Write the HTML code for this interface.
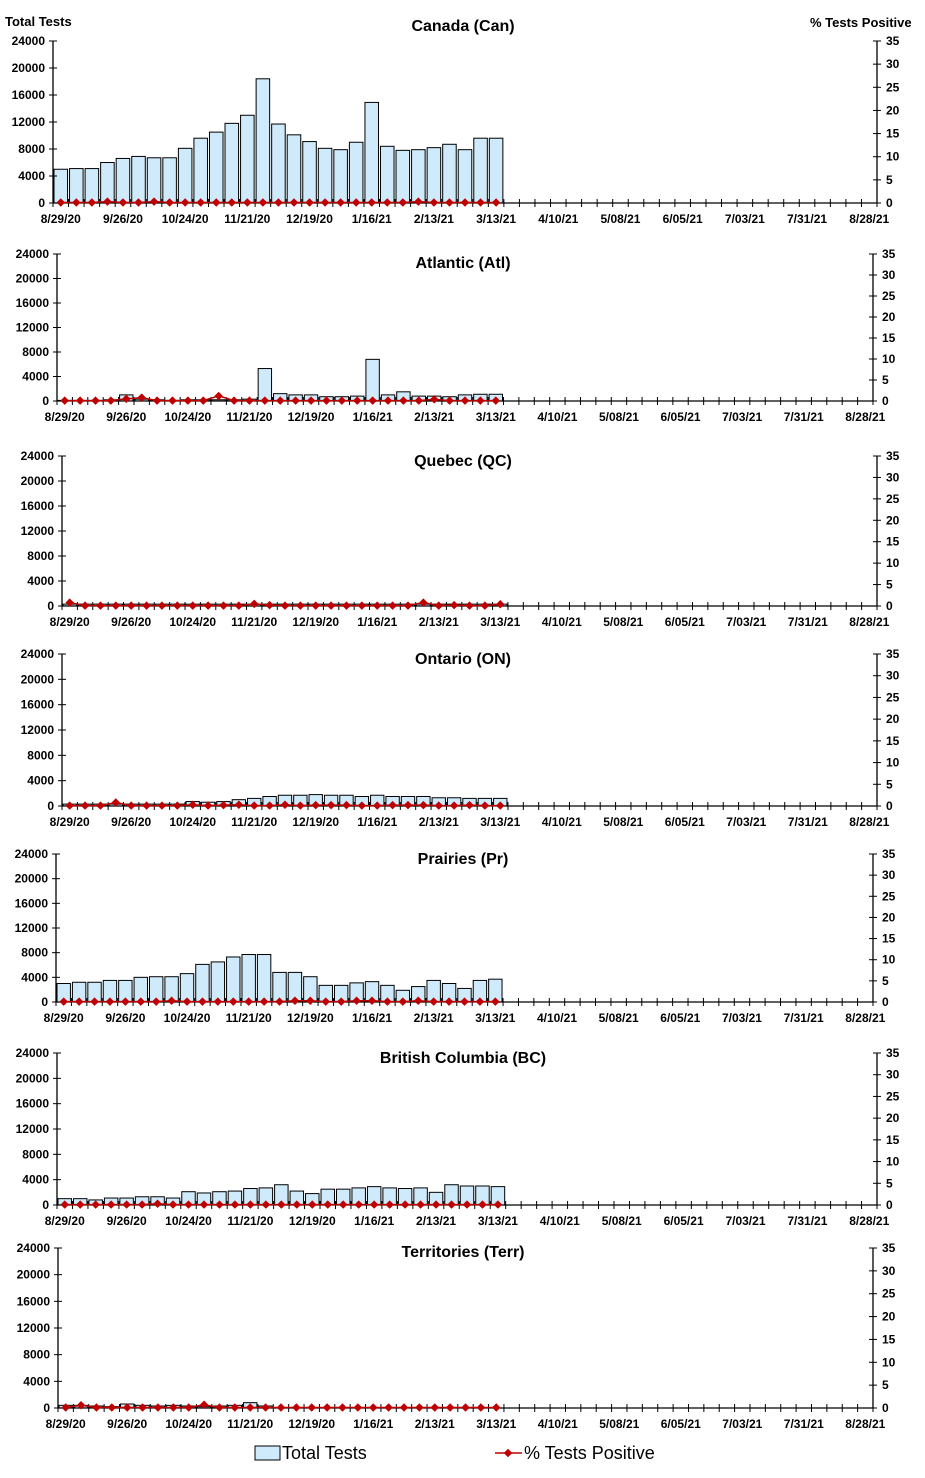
<!DOCTYPE html>
<html><head><meta charset="utf-8"><style>
body{margin:0;background:#fff;}
svg text{font-family:"Liberation Sans",Arial,sans-serif;font-weight:bold;fill:#000;}
</style></head><body>
<svg id="c" width="925" height="1473" viewBox="0 0 925 1473">
<text x="5" y="26" font-size="13">Total Tests</text>
<text x="810" y="27" font-size="13">% Tests Positive</text>
<g>
<rect x="255" y="1446" width="25" height="14" fill="#cfeafb" stroke="#000"/>
<text x="282" y="1459" font-size="18" style="font-weight:normal">Total Tests</text>
<line x1="495" y1="1453" x2="522" y2="1453" stroke="#c00000" stroke-width="1.5"/>
<rect x="505" y="1450" width="6" height="6" fill="#c00000" transform="rotate(45 508 1453)"/>
<text x="524" y="1459" font-size="18" style="font-weight:normal">% Tests Positive</text>
</g>
</svg>
<script>
const xLabels=["8/29/20","9/26/20","10/24/20","11/21/20","12/19/20","1/16/21","2/13/21","3/13/21","4/10/21","5/08/21","6/05/21","7/03/21","7/31/21","8/28/21"];
const leftTicks=[0,4000,8000,12000,16000,20000,24000];
const rightTicks=[0,5,10,15,20,25,30,35];
const regions=["Canada (Can)","Atlantic (Atl)","Quebec (QC)","Ontario (ON)","Prairies (Pr)","British Columbia (BC)","Territories (Terr)"];
const canTests=[5000,5100,5100,6000,6600,6900,6700,6700,8100,9600,10500,11800,13000,18400,11700,10100,9100,8100,7900,9000,14900,8400,7800,7900,8200,8700,7900,9600,9600];
const canPos=[0.1,0.1,0.1,0.3,0.1,0.1,0.3,0.1,0.1,0.1,0.1,0.1,0.1,0.1,0.1,0.1,0.1,0.1,0.1,0.1,0.1,0.1,0.1,0.3,0.1,0.1,0.1,0.1,0.1];
const atlTests=[100,100,100,200,1000,300,200,100,200,200,200,200,300,5300,1200,1000,1000,700,700,800,6800,1000,1500,800,800,700,1000,1100,1100];
const atlPos=[0.1,0.1,0.1,0.1,0.5,0.8,0.1,0.1,0.1,0.1,1.2,0.1,0.1,0.1,0.1,0.1,0.1,0.1,0.1,0.1,0.1,0.1,0.1,0.1,0.4,0.1,0.1,0.1,0.1];
const qcTests=[300,300,300,300,300,300,300,300,300,300,300,300,300,300,300,300,300,300,300,300,300,300,300,300,300,300,300,300,300];
const qcPos=[0.8,0.1,0.1,0.1,0.1,0.1,0.1,0.1,0.1,0.1,0.1,0.1,0.5,0.2,0.1,0.1,0.1,0.1,0.1,0.1,0.1,0.1,0.1,0.8,0.1,0.2,0.1,0.1,0.4];
const onTests=[300,300,300,300,300,300,300,300,700,600,700,1000,1200,1500,1700,1700,1800,1700,1700,1500,1700,1500,1500,1500,1300,1300,1200,1200,1200];
const onPos=[0.1,0.1,0.1,0.8,0.1,0.1,0.1,0.1,0.3,0.1,0.2,0.3,0.1,0.1,0.3,0.1,0.2,0.2,0.2,0.1,0.1,0.2,0.2,0.2,0.1,0.1,0.2,0.1,0.1];
const prTests=[3000,3200,3200,3500,3500,4000,4100,4100,4600,6100,6500,7300,7700,7700,4800,4800,4100,2700,2700,3100,3300,2700,1900,2500,3500,3000,2200,3500,3700];
const prPos=[0.1,0.1,0.1,0.1,0.1,0.1,0.1,0.3,0.1,0.1,0.1,0.1,0.1,0.1,0.1,0.3,0.3,0.1,0.1,0.3,0.3,0.1,0.1,0.3,0.1,0.1,0.1,0.1,0.1];
const bcTests=[1000,1000,800,1100,1100,1300,1300,1100,2100,1900,2100,2200,2600,2700,3200,2200,1800,2500,2500,2700,2900,2700,2600,2700,2000,3200,3000,3000,2900];
const bcPos=[0.1,0.1,0.1,0.1,0.1,0.1,0.3,0.1,0.1,0.1,0.1,0.1,0.1,0.1,0.1,0.1,0.1,0.1,0.1,0.1,0.1,0.1,0.1,0.1,0.1,0.1,0.1,0.1,0.1];
const terrTests=[400,400,300,200,600,400,300,400,300,200,300,400,800,300];
const terrPos=[0.1,0.6,0.1,0.1,0.1,0.1,0.1,0.1,0.1,0.7,0.1,0.1,0.1,0.1,0.1,0.1,0.1,0.1,0.1,0.1,0.1,0.1,0.1,0.1,0.1,0.1,0.1,0.1,0.1];
const seriesTests=[canTests,atlTests,qcTests,onTests,prTests,bcTests,terrTests];
const seriesPos=[canPos,atlPos,qcPos,onPos,prPos,bcPos,terrPos];
const layout=[[53,877,41,203],[57,873,254,401],[62,877,456,606],[62,877,654,806],[56,873,854,1002],[57,877,1053,1205],[58,873,1248,1408]];
const titleY=[31,268,466,664,864,1063,1257];
const NS="http://www.w3.org/2000/svg",svg=document.getElementById('c');
function mk(tag,at,parent){const e=document.createElementNS(NS,tag);for(const k in at)e.setAttribute(k,at[k]);(parent||svg).appendChild(e);return e;}
const N=53;
regions.forEach((name,p)=>{
  const [L,R,T,B]=layout[p];
  const g=mk('g',{});
  
  
  const slot=(R-L)/N;
  const x=i=>L+slot*i;
  const yL=v=>B-(v/24000)*(B-T);
  const yR=v=>B-(v/35)*(B-T);
  const t=mk('text',{x:463,y:titleY[p],'font-size':16,'text-anchor':'middle'},g);t.textContent=name;
  
  
  seriesTests[p].forEach((v,i)=>{
    const r=mk('rect',{x:x(i)+1,y:yL(v),width:slot-2,height:B-yL(v),fill:'#cfeafb',stroke:'#000','stroke-width':1},g);
    
    
  });
  mk('line',{x1:L,y1:T,x2:L,y2:B,stroke:'#000','stroke-width':1.3},g);
  mk('line',{x1:R,y1:T,x2:R,y2:B,stroke:'#000','stroke-width':1.3},g);
  mk('line',{x1:L,y1:B,x2:R,y2:B,stroke:'#000','stroke-width':1.3},g);
  leftTicks.forEach(v=>{const y=yL(v);mk('line',{x1:L-4,y1:y,x2:L+4,y2:y,stroke:'#000'},g);
    const tx=mk('text',{x:L-8,y:y+4,'font-size':12,'text-anchor':'end'},g);tx.textContent=v;
    
    });
  rightTicks.forEach(v=>{const y=yR(v);mk('line',{x1:R-4,y1:y,x2:R+4,y2:y,stroke:'#000'},g);
    const tx=mk('text',{x:R+9,y:y+4,'font-size':12},g);tx.textContent=v;
    
    });
  for(let i=0;i<=N;i++)mk('line',{x1:x(i),y1:B-4,x2:x(i),y2:B+4,stroke:'#000'},g);
  xLabels.forEach((lab,k)=>{const tx=mk('text',{x:x(k*4)+slot/2,y:B+20,'font-size':12,'text-anchor':'middle'},g);tx.textContent=lab;
    
    });
  const pos=seriesPos[p];
  const pts=pos.map((v,i)=>(x(i)+slot/2)+','+yR(v)).join(' ');
  const pl=mk('polyline',{points:pts,fill:'none',stroke:'#c00000','stroke-width':1.5},g);
  
  
  pos.forEach((v,i)=>{const cx=x(i)+slot/2,cy=yR(v);
    const d=mk('rect',{x:cx-3,y:cy-3,width:6,height:6,fill:'#c00000',transform:`rotate(45 ${cx} ${cy})`},g);
    
    });
});
</script>
</body></html>
